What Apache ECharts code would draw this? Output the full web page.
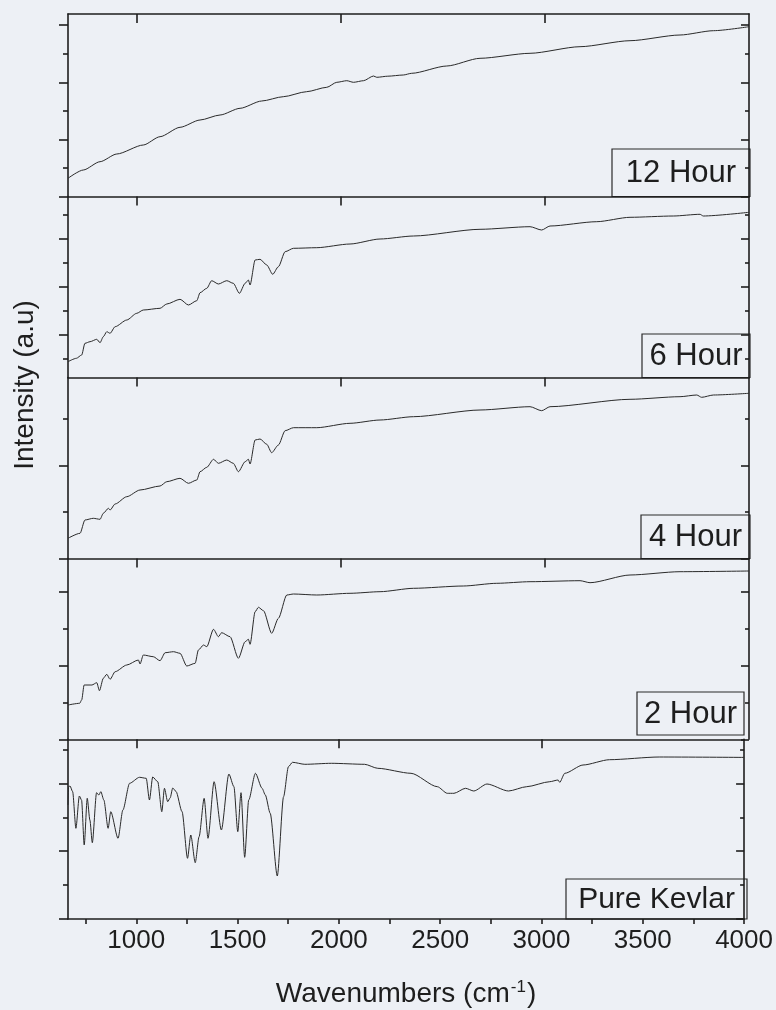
<!DOCTYPE html>
<html>
<head>
<meta charset="utf-8">
<script src="https://cdn.jsdelivr.net/npm/echarts@6/dist/echarts.min.js"></script>
<style>
  html, body { margin: 0; padding: 0; background: #edf0f5; }
  #chart { width: 776px; height: 1010px; }
</style>
</head>
<body>
<div id="chart"></div>
<script>
// ---------------- DATA ----------------
const labels = ['12 Hour', '6 Hour', '4 Hour', '2 Hour', 'Pure Kevlar'];

const wn12h = [663,738,820,902,1032,1114,1212,1310,1408,1506,1612,1718,1832,1931,1980,2029,2062,2111,2160,2176,2230,2306,2347,2519,2682,2927,3172,3417,3662,3826,4000];
const int12h = [18.2,26.5,34.8,42.5,51.5,59.8,69.2,76.5,81.5,88.2,95.5,99.8,104.8,109.2,114.2,115.8,114.2,115.8,120.5,119.2,120.3,121.5,123.2,130.5,138.2,143.2,149.8,155.8,161.5,165.8,169.8];

const wn6h = [663,704,730,746,771,804,820,836,853,869,894,951,1000,1032,1114,1147,1212,1253,1294,1310,1343,1367,1400,1441,1473,1503,1531,1547,1555,1580,1604,1637,1666,1694,1727,1768,1882,2045,2192,2356,2682,2927,2984,3025,3254,3417,3629,3760,3776,4000];
const int6h = [15.8,19.2,22.5,34.2,35.8,38.2,34.8,40.8,45.8,44.2,50.8,57.5,64.2,67.5,69.2,73.5,78.2,72.5,76.8,84.8,89.2,96.8,93.5,96.8,94.2,84.2,94.2,97.5,92.5,117.5,118.2,112.5,103.2,110.8,125.8,129.2,129.8,133.5,138.5,141.5,148.2,150.8,147.5,151.5,155.8,160.2,161.5,163.2,161.5,165.2];

const wn4h = [663,722,746,787,820,836,861,869,894,951,1016,1114,1147,1212,1253,1294,1310,1343,1376,1400,1441,1473,1498,1531,1547,1555,1580,1604,1637,1661,1694,1727,1768,1882,2045,2192,2356,2682,2927,2984,3025,3417,3662,3744,3768,3826,4000];
const int4h = [20.2,25.2,38.5,40.2,39.2,45.2,50.2,48.5,54.5,61.8,68.5,72.5,76.8,80.2,75.2,78.5,86.8,91.2,99.2,95.2,98.5,95.2,86.8,96.8,99.2,94.5,118.5,119.5,114.2,105.8,113.5,127.8,130.8,130.8,135.2,138.5,141.8,148.5,151.8,147.8,151.8,159.2,161.8,163.5,161.2,163.5,165.2];

const wn2h = [663,720,730,742,780,804,817,836,853,869,894,951,1008,1016,1032,1081,1114,1139,1180,1212,1245,1286,1302,1327,1343,1376,1400,1416,1457,1498,1531,1547,1555,1580,1596,1621,1661,1694,1735,1768,1882,2045,2192,2356,2600,2764,2927,3172,3221,3417,3662,4000];
const int2h = [34.3,36,39.3,54.3,54.3,56.6,48.6,61,65,60,67.6,74.3,79.3,75.3,84.3,82.6,78.6,86.6,87.6,86,73.3,76,89.3,94.3,92.6,110,102.6,106.6,102.6,81,97.6,100,95,127.6,132,128.6,106,121,144.3,145.3,144.3,146,147.6,151,153.3,156,157.6,158.6,156.6,164.3,167.6,168.3];

const wnKevlar = [663,666,673,686,702,719,730,743,758,771,783,804,815,825,840,861,874,910,934,967,1016,1049,1065,1081,1106,1126,1139,1155,1167,1180,1196,1226,1253,1269,1291,1310,1335,1354,1384,1420,1457,1482,1501,1517,1535,1555,1588,1621,1637,1661,1696,1727,1751,1771,1832,1963,2127,2192,2356,2486,2535,2568,2625,2666,2731,2837,2927,3041,3082,3090,3115,3205,3336,3581,4000];
const intKevlar = [114,132.3,133,127.3,90.7,123,119,74,120.7,99,76.3,126.3,124,127.3,119,90.7,107.3,80.7,109,135.7,141.7,140.7,119,142,137.3,107.3,130.7,117.3,121,131,127.6,107.3,60.7,84,56.3,82.3,120.7,80.7,137.3,89,145,132.3,87.3,126.3,61.7,119,145.7,130.7,124,105.7,43,122.3,152.3,156.7,154.7,155.7,154.7,150.7,145.7,132.3,125.7,125.7,130.7,128,135,128,132.3,137.3,139,136.7,145.7,154,159.3,162,161.6];

// axis ranges (a.u.) and tick values
const xMin = 663, xMax = 4000;
const xTickLabels = [1000, 1500, 2000, 2500, 3000, 3500, 4000];
const xTicksBottom = [750, 1000, 1250, 1500, 1750, 2000, 2250, 2500, 2750, 3000, 3250, 3500, 3750, 4000];
const xTicksTop = [1000, 2000, 3000];
const yMax = [182.5, 181, 181, 180.8, 179.7];
const yMajor = [[0, 57.1, 114.2, 171.3], [42.5, 90.5, 138.5], [0, 93], [0, 73.8, 147.6], [0, 67.8, 135.6]];
const yMinor = [[28.55, 85.65, 142.75], [18.5, 66.5, 114.5, 162.5], [46.5, 139.5], [36.9, 110.7], [33.9, 101.7, 169.5]];

const allWn = [wn12h, wn6h, wn4h, wn2h, wnKevlar];
const allInt = [int12h, int6h, int4h, int2h, intKevlar];

// ---------------- LAYOUT ----------------
const gridTop = [14, 196.5, 377.5, 558.5, 739.3];
const gridHeight = [182.5, 181, 181, 180.8, 179.7];
const boxes = [
  [612, 149, 138, 47.5],
  [642, 334, 108, 43.5],
  [641, 515, 109, 43.5],
  [637, 692, 107, 43],
  [566, 879, 181, 40]
];
const labelFont = [31, 31, 31, 31, 30];

const FONT = "'Liberation Sans', Arial, sans-serif";
const INK = '#1e1e1e';
const BG = '#edf0f5';
const axisLineStyle = { color: INK, width: 1.6 };

const grids = [], xAxes = [], yAxes = [], series = [], graphics = [];

for (let i = 0; i < 5; i++) {
  grids.push({ left: 68, right: 27, top: gridTop[i], height: gridHeight[i] });
  xAxes.push({
    gridIndex: i, type: 'value', min: xMin, max: xMax, position: 'top',
    axisLine: { show: true, onZero: false, lineStyle: axisLineStyle },
    axisTick: { show: true, inside: true, length: 9, customValues: xTicksTop, lineStyle: axisLineStyle },
    axisLabel: { show: false }, splitLine: { show: false }
  });
  const base = { gridIndex: i, type: 'value', min: 0, max: yMax[i], axisLabel: { show: false }, splitLine: { show: false } };
  yAxes.push(Object.assign({}, base, { position: 'left', axisLine: { show: true, onZero: false, lineStyle: axisLineStyle },
    axisTick: { show: true, inside: false, length: 9, customValues: yMajor[i], lineStyle: axisLineStyle } }));
  yAxes.push(Object.assign({}, base, { position: 'left', axisLine: { show: false, onZero: false },
    axisTick: { show: true, inside: false, length: 5, customValues: yMinor[i], lineStyle: axisLineStyle } }));
  yAxes.push(Object.assign({}, base, { position: 'right', axisLine: { show: true, onZero: false, lineStyle: axisLineStyle },
    axisTick: { show: true, inside: true, length: 8, customValues: yMajor[i], lineStyle: axisLineStyle } }));
  yAxes.push(Object.assign({}, base, { position: 'right', axisLine: { show: false, onZero: false },
    axisTick: { show: true, inside: true, length: 4, customValues: yMinor[i], lineStyle: axisLineStyle } }));

  const wn = allWn[i], iv = allInt[i];
  series.push({
    type: 'line', name: labels[i], xAxisIndex: i, yAxisIndex: 4 * i,
    data: wn.map((w, k) => [w, iv[k]]),
    showSymbol: false, symbol: 'none', smooth: 0.25, smoothMonotone: 'x',
    lineStyle: { color: '#2a2a2a', width: 1 }, z: 3
  });

  const b = boxes[i];
  graphics.push({
    type: 'group', z: 100,
    children: [
      { type: 'rect', shape: { x: b[0], y: b[1], width: b[2], height: b[3] },
        style: { fill: BG, stroke: '#2a2a2a', lineWidth: 1.2 } },
      { type: 'text', x: b[0] + b[2] / 2, y: b[1] + b[3] / 2 + 1,
        style: { text: labels[i], fill: INK, font: labelFont[i] + 'px ' + FONT,
          align: 'center', verticalAlign: 'middle', textAlign: 'center', textVerticalAlign: 'middle' } }
    ]
  });
}

// bottom axis with labels
xAxes.push({
  gridIndex: 4, type: 'value', min: xMin, max: xMax, position: 'bottom',
  axisLine: { show: true, onZero: false, lineStyle: axisLineStyle },
  axisTick: { show: true, inside: false, length: 5, customValues: xTicksBottom, lineStyle: axisLineStyle },
  axisLabel: { show: true, customValues: xTickLabels, formatter: v => String(v),
    fontSize: 26, fontFamily: FONT, color: INK, margin: 9 },
  splitLine: { show: false },
  name: 'Wavenumbers (cm{sup|-1})', nameLocation: 'middle', nameGap: 60,
  nameTextStyle: { fontSize: 28, fontFamily: FONT, color: INK, verticalAlign: 'top',
    rich: { sup: { fontSize: 17, fontFamily: FONT, color: INK, verticalAlign: 'top', padding: [0, 1, 14, 1] } } }
});

// y axis title
graphics.push({
  type: 'text', z: 100, x: 25, y: 385, rotation: Math.PI / 2,
  style: { text: 'Intensity (a.u)', fill: INK, font: '28px ' + FONT,
    align: 'center', verticalAlign: 'middle', textAlign: 'center', textVerticalAlign: 'middle' }
});

const chart = echarts.init(document.getElementById('chart'), null, { renderer: 'canvas' });
chart.setOption({
  backgroundColor: BG,
  animation: false,
  grid: grids,
  xAxis: xAxes,
  yAxis: yAxes,
  series: series,
  graphic: graphics
});
</script>
</body>
</html>
